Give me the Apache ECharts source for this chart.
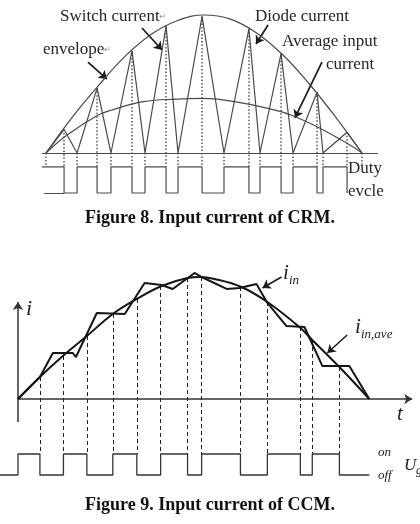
<!DOCTYPE html>
<html><head><meta charset="utf-8">
<script src="https://cdn.jsdelivr.net/npm/echarts@6/dist/echarts.min.js"></script>
<style>html,body{margin:0;padding:0;background:#fff}#c{width:420px;height:524px}</style>
</head><body><div id="c"></div>
<script>
// ---------- Figure 8 (CRM): x = phase angle (deg), y = current (relative to envelope peak)
const envPhase = [0,15,30,45,60,75,90,105,120,135,150,165,180];
const envCurrent = [0,0.26,0.49,0.70,0.86,0.96,1.0,0.97,0.87,0.71,0.50,0.26,0];
const avgPhase = [0,12,29,37,55.3,74.6,88.9,112.2,133.9,141.8,154.4,171.5,180];
const avgCurrent = [0,0.13,0.27,0.31,0.372,0.391,0.396,0.362,0.30,0.263,0.19,0.07,0];
const swPhase = [0,10.3,17.7,29.1,37.0,49.0,56.4,68.4,75.2,88.9,101.4,115.6,121.9,133.9,140.7,154.4,157.8,171.5,180];
const swCurrent = [0,0.17,0,0.47,0,0.74,0,0.92,0,0.99,0,0.90,0,0.72,0,0.44,0,0.15,0];
const dutyEdges = [10.3,17.7,29.1,37.0,49.0,56.4,68.4,75.2,88.9,101.4,115.6,121.9,133.9,140.7,154.4,157.8,171.5];
const dutyLevels = {high:-0.10, low:-0.29};
const crmLabels = ["Switch current","envelope","Diode current","Average input","current","Duty","evcle"];

// ---------- Figure 9 (CCM): x = time (deg of half line cycle), y = current (relative)
const aveT = [0,11.25,23.0,35.3,48.6,60.9,73.6,86.9,93.1,100.7,114.5,127.8,144.2,150.8,164.7,180];
const aveI = [0,0.18,0.352,0.516,0.697,0.82,0.926,0.992,1.0,0.984,0.918,0.795,0.59,0.484,0.262,0];
const inT = [0,11.25,17.9,28.1,29.7,40.4,54.7,64.9,73.6,79.3,90.5,94.1,106.9,113.5,122.2,127.8,137.6,146.8,156.0,169.8,180];
const inI = [0,0.18,0.377,0.377,0.344,0.705,0.697,0.951,0.934,0.902,1.033,1.0,0.902,0.910,0.943,0.787,0.598,0.590,0.270,0.270,0];
const gateEdges = [0,11.25,23.3,35.3,48.6,60.9,73.1,86.9,94.1,114.0,127.8,144.7,150.8,164.7];
const dashTop = [0.18,0.352,0.516,0.697,0.82,0.926,0.992,1.0,0.918,0.795,0.59,0.484,0.262];
const gateLevels = {on:-0.451, off:-0.623};

const zip = (a,b)=>a.map((v,i)=>[v,b[i]]);

// duty-cycle step data (Fig 8)
const dutyData = [[-2.3,dutyLevels.high]];
let lvl = dutyLevels.high;
dutyEdges.forEach(x=>{ dutyData.push([x,lvl]); lvl = (lvl===dutyLevels.high)?dutyLevels.low:dutyLevels.high; dutyData.push([x,lvl]); });
// gate step data (Fig 9)
const gateData = [[-9.2,gateLevels.off]];
let g = gateLevels.off;
gateEdges.forEach(x=>{ gateData.push([x,g]); g = (g===gateLevels.off)?gateLevels.on:gateLevels.off; gateData.push([x,g]); });
gateData.push([180,g]);

const dotted8 = swPhase.map((x,i)=>({coords:[[x,swCurrent[i]],[x,dutyLevels.high]]}));
const dashed9 = gateEdges.slice(1).map((x,i)=>({coords:[[x,dashTop[i]],[x,gateLevels.on]]}));

const c8 = '#4a4a4a', c9 = '#151515';
const serif = '"Liberation Serif","DejaVu Serif",serif';
const lineBase = {type:'line', showSymbol:false, silent:true, animation:false};
const linesBase = {type:'lines', coordinateSystem:'cartesian2d', silent:true, animation:false, polyline:false};

const chart = echarts.init(document.getElementById('c'), null, {renderer:'canvas'});
chart.setOption({
  animation:false,
  backgroundColor:'#fff',
  grid:[
    {left:37.22, top:8.1, width:351.1, height:193.2},
    {left:0.4, top:270.9, width:420.45, height:213.5}
  ],
  xAxis:[
    {gridIndex:0, type:'value', min:-5, max:195, show:false},
    {gridIndex:1, type:'value', min:-9, max:206, show:false}
  ],
  yAxis:[
    {gridIndex:0, type:'value', min:-0.35, max:1.05, show:false},
    {gridIndex:1, type:'value', min:-0.7, max:1.05, show:false}
  ],
  series:[
    // ---- Figure 8
    Object.assign({}, linesBase, {xAxisIndex:0,yAxisIndex:0, lineStyle:{color:c8,width:1.2,opacity:1},
      data:[{coords:[[-2.3,0],[189.1,0]]},{coords:[[-1.1,dutyLevels.low],[10.3,dutyLevels.low]]}]}),
    Object.assign({}, lineBase, {xAxisIndex:0,yAxisIndex:0, smooth:0.4, data:zip(envPhase,envCurrent), lineStyle:{color:c8,width:1.2}}),
    Object.assign({}, lineBase, {xAxisIndex:0,yAxisIndex:0, smooth:0.4, data:zip(avgPhase,avgCurrent), lineStyle:{color:c8,width:1.2}}),
    Object.assign({}, lineBase, {xAxisIndex:0,yAxisIndex:0, data:zip(swPhase,swCurrent), lineStyle:{color:c8,width:1.2}}),
    Object.assign({}, lineBase, {xAxisIndex:0,yAxisIndex:0, data:dutyData, lineStyle:{color:c8,width:1.2}}),
    Object.assign({}, linesBase, {xAxisIndex:0,yAxisIndex:0, lineStyle:{color:'#555',width:1.5,type:[1.5,2],opacity:1}, data:dotted8}),
    Object.assign({}, linesBase, {xAxisIndex:0,yAxisIndex:0, symbol:['none','arrow'], symbolSize:8,
      lineStyle:{color:'#1a1a1a',width:1.7,opacity:1},
      data:[
        {coords:[[54.7,0.906],[66.1,0.746]]},
        {coords:[[23.9,0.659],[34.7,0.536]]},
        {coords:[[126.5,0.928],[119.6,0.79]]},
        {coords:[[157.2,0.659],[141.8,0.254]]}
      ]}),
    // ---- Figure 9
    Object.assign({}, linesBase, {xAxisIndex:1,yAxisIndex:1, symbol:['none','arrow'], symbolSize:8,
      lineStyle:{color:'#333',width:1.5,opacity:1},
      data:[{coords:[[0,-0.189],[0,0.795]]},{coords:[[0,0],[202,0]]}]}),
    Object.assign({}, lineBase, {xAxisIndex:1,yAxisIndex:1, smooth:0.4, data:zip(aveT,aveI), lineStyle:{color:c9,width:2}}),
    Object.assign({}, lineBase, {xAxisIndex:1,yAxisIndex:1, data:zip(inT,inI), lineStyle:{color:c9,width:2}}),
    Object.assign({}, lineBase, {xAxisIndex:1,yAxisIndex:1, data:gateData, lineStyle:{color:'#333',width:1.3}}),
    Object.assign({}, linesBase, {xAxisIndex:1,yAxisIndex:1, lineStyle:{color:'#222',width:1,type:[4,3],opacity:1}, data:dashed9}),
    Object.assign({}, linesBase, {xAxisIndex:1,yAxisIndex:1, symbol:['none','arrow'], symbolSize:8,
      lineStyle:{color:'#1a1a1a',width:1.5,opacity:1},
      data:[{coords:[[135.0,1.0],[125.3,0.91]]},{coords:[[168.7,0.525],[158.5,0.377]]}]})
  ],
  graphic:[
    {type:'text', style:{text:crmLabels[0]+'{r|↵}', x:60, y:17, font:'17px '+serif, fill:'#262626', textVerticalAlign:'middle', rich:{r:{fontSize:8, fill:'#888', fontFamily:'DejaVu Sans'}}}},
    {type:'text', style:{text:crmLabels[1]+'{r|↵}', x:43, y:50, font:'17px '+serif, fill:'#262626', textVerticalAlign:'middle', rich:{r:{fontSize:8, fill:'#888', fontFamily:'DejaVu Sans'}}}},
    {type:'text', style:{text:crmLabels[2], x:255, y:17, font:'17px '+serif, fill:'#262626', textVerticalAlign:'middle'}},
    {type:'text', style:{text:crmLabels[3], x:282, y:42, font:'17px '+serif, fill:'#262626', textVerticalAlign:'middle'}},
    {type:'text', style:{text:crmLabels[4], x:326, y:65, font:'17px '+serif, fill:'#262626', textVerticalAlign:'middle'}},
    {type:'text', style:{text:crmLabels[5], x:348, y:169, font:'17px '+serif, fill:'#262626', textVerticalAlign:'middle'}},
    {type:'text', style:{text:crmLabels[6], x:348, y:192, font:'17px '+serif, fill:'#262626', textVerticalAlign:'middle'}},
    {type:'text', style:{text:'Figure 8. Input current of CRM.', x:210, y:218, font:'bold 18px '+serif, fill:'#111', textAlign:'center', textVerticalAlign:'middle'}},
    {type:'text', style:{text:'i', x:26, y:309, font:'italic 22px '+serif, fill:'#222', textVerticalAlign:'middle'}},
    {type:'text', style:{text:'t', x:400, y:414, font:'italic 21px '+serif, fill:'#222', textAlign:'center', textVerticalAlign:'middle'}},
    {type:'text', style:{text:'i', x:283, y:273, font:'italic 21px '+serif, fill:'#222', textVerticalAlign:'middle'}},
    {type:'text', style:{text:'in', x:289, y:281, font:'italic 13px '+serif, fill:'#222', textVerticalAlign:'middle'}},
    {type:'text', style:{text:'i', x:355, y:327, font:'italic 21px '+serif, fill:'#222', textVerticalAlign:'middle'}},
    {type:'text', style:{text:'in,ave', x:361, y:335, font:'italic 13px '+serif, fill:'#222', textVerticalAlign:'middle'}},
    {type:'text', style:{text:'on', x:378, y:453, font:'italic 13px '+serif, fill:'#222', textVerticalAlign:'middle'}},
    {type:'text', style:{text:'off', x:378, y:476, font:'italic 13px '+serif, fill:'#222', textVerticalAlign:'middle'}},
    {type:'text', style:{text:'U', x:404, y:466, font:'italic 17px '+serif, fill:'#222', textVerticalAlign:'middle'}},
    {type:'text', style:{text:'g', x:416, y:471, font:'italic 12px '+serif, fill:'#222', textVerticalAlign:'middle'}},
    {type:'text', style:{text:'Figure 9. Input current of CCM.', x:210, y:505, font:'bold 18px '+serif, fill:'#111', textAlign:'center', textVerticalAlign:'middle'}}
  ]
});
</script></body></html>
